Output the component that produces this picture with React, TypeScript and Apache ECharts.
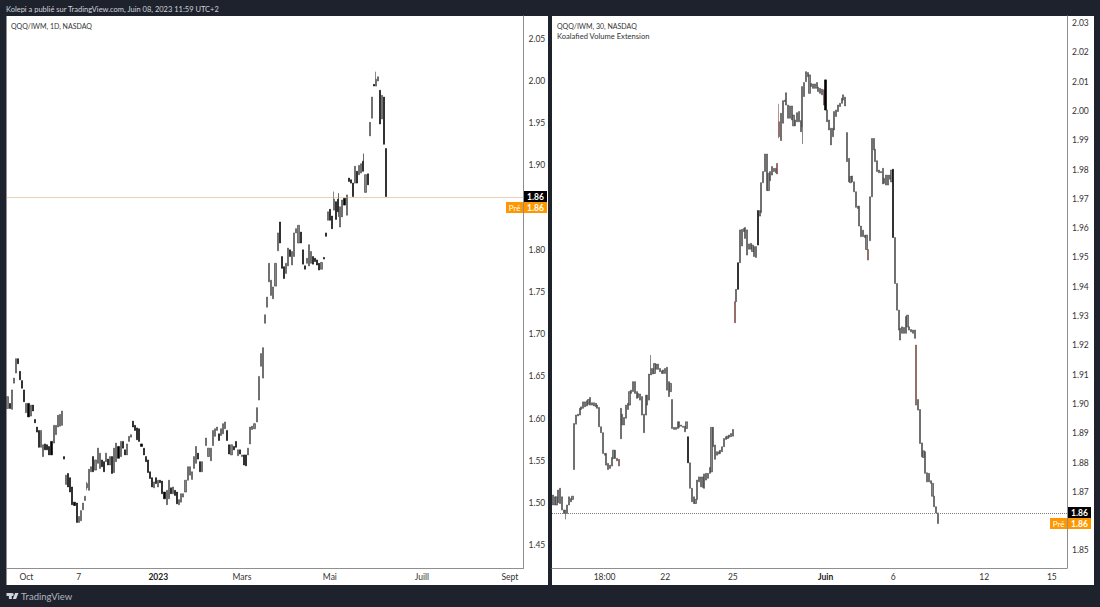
import React, { useEffect, useRef } from "react";
import * as echarts from "echarts";

// [open, close] or [open, close, low, high]; null = no bar
const dailyBars: (number[] | null)[] = [
[1.612,1.626],[1.618,1.612],[1.611,1.634],[1.642,1.648],[1.654,1.671],[1.671,1.665],[1.656,1.646],[1.645,1.636],[1.634,1.620],[1.607,1.618],
[1.618,1.602],[1.603,1.616],[1.616,1.609],[1.599,1.595],[1.590,1.584],[1.586,1.566],[1.566,1.586],[1.555,1.569],[1.570,1.563],[1.569,1.563],
[1.567,1.557],[1.573,1.557],[1.571,1.592],[1.581,1.592],[1.590,1.604],[1.591,1.605],[1.592,1.609],[1.555,1.552],[1.522,1.533],[1.535,1.519],
[1.530,1.513],[1.519,1.498],[1.501,1.497],[1.500,1.477],[1.477,1.484],[1.479,1.491],[1.492,1.500],[1.503,1.508],[1.518,1.523,1.515,1.525],[1.515,1.540],
[1.537,1.543],[1.555,1.537],[1.539,1.551],[1.547,1.565],[1.541,1.559],[1.551,1.543],[1.549,1.537],[1.549,1.559],[1.552,1.545],[1.545,1.555],
[1.555,1.535],[1.536,1.565],[1.549,1.571],[1.567,1.553],[1.555,1.573],[1.573,1.565],[1.563,1.557],[1.557,1.570],[1.573,1.579],[1.578,1.581],
[1.597,1.590],[1.592,1.586],[1.589,1.575],[1.588,1.573],[1.570,1.567],[1.565,1.557],[1.555,1.549],[1.551,1.536],[1.537,1.529],[1.530,1.519],
[1.518,1.525],[1.530,1.523],[1.519,1.527],[1.527,1.524],[1.526,1.511],[1.513,1.505],[1.498,1.515],[1.505,1.527],[1.518,1.511],[1.511,1.519],
[1.515,1.509],[1.513,1.499],[1.498,1.504],[1.501,1.511],[1.507,1.511],[1.513,1.527],[1.527,1.543],[1.533,1.543],[1.528,1.537],[1.541,1.555],
[1.547,1.567],[1.559,1.552],[1.549,1.537],[1.537,1.549],null,[1.568,1.577],[1.555,1.565],[1.550,1.565],[1.568,1.586],[1.579,1.588],
[1.586,1.590],[1.582,1.574],[1.580,1.588],[1.582,1.594],[1.588,1.596],[1.586,1.574],[1.569,1.558],[1.557,1.569],[1.567,1.563],[1.573,1.566],
[1.556,1.563],[1.563,1.558],[1.555,1.557],[1.557,1.545],[1.557,1.544],[1.557,1.565],[1.570,1.590],[1.587,1.591],[1.588,1.594],[1.596,1.613],
[1.622,1.650],[1.662,1.677],[1.648,1.684],[1.713,1.723],[1.732,1.744],[1.762,1.784],[1.746,1.764],[1.742,1.756],[1.757,1.784],[1.799,1.820],
[1.833,1.808],[1.792,1.778],[1.780,1.766],[1.772,1.784],[1.781,1.802],[1.800,1.792],[1.782,1.798],[1.792,1.820],[1.820,1.825],[1.808,1.829],
[1.821,1.808],[1.800,1.783],[1.781,1.777],[1.784,1.790],[1.781,1.806],[1.784,1.798],[1.792,1.783],[1.790,1.786],[1.788,1.782],[1.784,1.776],
[1.777,1.785],[1.791,1.789],[1.820,1.816],[1.835,1.845],[1.848,1.835],[1.840,1.825],[1.847,1.860,1.847,1.869],[1.857,1.836],[1.860,1.845,1.839,1.867],[1.827,1.851],
[1.839,1.859],[1.861,1.853],[1.841,1.865],[1.885,1.881],[1.883,1.879],[1.879,1.863],[1.879,1.899],[1.893,1.879],[1.889,1.900],[1.891,1.902],
[1.905,1.893,1.893,1.914],[1.868,1.889],[1.890,1.877],[1.935,1.951],[1.956,1.981],[1.996,1.994],[1.994,2.002,1.994,2.011],[2.000,2.005],[1.989,1.949],[1.955,1.983],
[1.981,1.925],[1.920,1.863],
];

const intradayBars: number[][] = [
[1.8655,1.8689],[1.8655,1.8683],[1.8655,1.8683],[1.8663,1.8706],[1.8660,1.8712],[1.8638,1.8683],[1.8626,1.8638],[1.8626,1.8638,1.8606,1.8638],[1.8626,1.8655],[1.8655,1.8683],
[1.8666,1.8677],[1.8674,1.8685],[1.8776,1.8933],[1.8931,1.8962],[1.8959,1.8965],[1.8962,1.8985],[1.8981,1.8990],[1.8985,1.9007],[1.8990,1.9007],[1.8993,1.9011],
[1.8999,1.9015],[1.8996,1.9022],[1.8996,1.9004],[1.8993,1.9004],[1.8990,1.9002],[1.8985,1.8996],[1.8922,1.8988],[1.8902,1.8922],[1.8831,1.8902],[1.8825,1.8831],
[1.8791,1.8831],[1.8776,1.8797],[1.8780,1.8791],[1.8788,1.8817],[1.8814,1.8842],[1.8814,1.8842],[1.8806,1.8814],[1.8788,1.8811],[1.8881,1.8985],[1.8928,1.8965],
[1.8928,1.8954],[1.8951,1.8996],[1.8981,1.9002],[1.8996,1.9042],[1.9036,1.9047],[1.9042,1.9076],[1.9036,1.9076],[1.9019,1.9042],[1.9022,1.9036],[1.9013,1.9034],
[1.8962,1.9025],[1.8902,1.8965],[1.8962,1.9030],[1.8996,1.9030],[1.9013,1.9102],[1.9099,1.9121,1.9099,1.9167],[1.9102,1.9121],[1.9104,1.9138],[1.9118,1.9136],[1.9118,1.9136],
[1.9110,1.9121],[1.9104,1.9113],[1.9104,1.9116],[1.9104,1.9121],[1.9047,1.9125],[1.9025,1.9076],[1.9042,1.9070],[1.8916,1.9015],[1.8913,1.8920],[1.8913,1.8920],
[1.8916,1.8939],[1.8920,1.8939],[1.8924,1.8928],[1.8920,1.8924],[1.8905,1.8924],[1.8916,1.8939],[1.8888,1.8799],[1.8712,1.8799],[1.8666,1.8712],[1.8660,1.8683],
[1.8660,1.8674],[1.8674,1.8740],[1.8734,1.8751],[1.8717,1.8751],[1.8715,1.8751],[1.8712,1.8761],[1.8740,1.8763],[1.8746,1.8763],[1.8763,1.8783],[1.8768,1.8920],
[1.8854,1.8920],[1.8811,1.8860],[1.8825,1.8837],[1.8829,1.8837],[1.8831,1.8842],[1.8837,1.8854],[1.8854,1.8882],[1.8879,1.8888],[1.8882,1.8890],[1.8886,1.8894],
[1.8888,1.8899],[1.8890,1.8913],[1.9277,1.9349],[1.9349,1.9391],[1.9482,1.9391],[1.9482,1.9594],[1.9539,1.9596],[1.9588,1.9599],[1.9565,1.9602],[1.9508,1.9594],
[1.9528,1.9546],[1.9528,1.9548],[1.9520,1.9542],[1.9503,1.9537],[1.9500,1.9537],[1.9660,1.9542],[1.9641,1.9660],[1.9653,1.9755],[1.9755,1.9793],[1.9793,1.9853],
[1.9728,1.9853],[1.9728,1.9787],[1.9762,1.9793],[1.9781,1.9810],[1.9793,1.9804],[1.9789,1.9804],[1.9785,1.9821],[1.9912,1.9963,1.9907,2.0024],[1.9899,1.9992],[1.9958,2.0035],
[2.0032,2.0037],[2.0020,2.0062],[1.9975,2.0020],[1.9975,2.0017],[1.9969,2.0017],[1.9949,1.9986],[1.9949,1.9969],[1.9963,1.9994],[1.9963,1.9998],[1.9929,1.9967],
[1.9946,2.0083,1.9887,2.0083],[2.0049,2.0097],[2.0100,2.0134],[2.0117,2.0131],[2.0060,2.0123],[2.0083,2.0094],[2.0077,2.0092],[2.0077,2.0092],[2.0077,2.0097],[2.0066,2.0081],
[2.0060,2.0077],[2.0055,2.0074],[2.0020,2.0072],[2.0106,2.0003],[1.9963,2.0003],[1.9935,1.9969],[1.9884,1.9941],[1.9912,1.9941],[1.9935,1.9998],[1.9981,2.0003],
[1.9998,2.0020],[2.0015,2.0026],[2.0026,2.0043],[2.0037,2.0055],[2.0017,2.0047],[1.9827,1.9926],[1.9758,1.9838],[1.9755,1.9776],[1.9758,1.9778],[1.9724,1.9758],
[1.9671,1.9724],[1.9667,1.9675],[1.9607,1.9675],[1.9571,1.9607],[1.9571,1.9593],[1.9568,1.9576],[1.9527,1.9576],[1.9491,1.9527],[1.9557,1.9707],[1.9707,1.9906],
[1.9867,1.9906],[1.9827,1.9869],[1.9793,1.9830],[1.9789,1.9798],[1.9789,1.9793],[1.9751,1.9804],[1.9753,1.9770],[1.9747,1.9781],[1.9747,1.9781],[1.9767,1.9781],
[1.9758,1.9798],[1.9801,1.9568],[1.9411,1.9568],[1.9320,1.9411],[1.9252,1.9320],[1.9218,1.9258],[1.9241,1.9263],[1.9241,1.9261],[1.9241,1.9298],[1.9263,1.9303],
[1.9252,1.9263],[1.9246,1.9254],[1.9241,1.9252],[1.9224,1.9252],[1.8996,1.9201],[1.8979,1.9015],[1.8865,1.8981],[1.8820,1.8867],[1.8817,1.8840],[1.8763,1.8837],
[1.8734,1.8765],[1.8734,1.8763],[1.8729,1.8738],[1.8685,1.8729],[1.8649,1.8685],[1.8628,1.8649],[1.8592,1.8628],
];
const intradayHighlighted = [37, 102, 126, 127, 152, 177, 204];

const dailySlots = 247;
const intradaySlots = 289;
const dailyXTicks: [number, string, boolean][] = [[9,"Oct",false],[34,"7",false],[72,"2023",true],[112,"Mars",false],[154,"Mai",false],[198,"Juill",false],[240,"Sept",false]];
const intradayXTicks: [number, string, boolean][] = [[29,"18:00",false],[63,"22",false],[101,"25",false],[153,"Juin",true],[191,"6",false],[242,"12",false],[280,"15",false]];
const dailyYTicks = [1.45,1.5,1.55,1.6,1.65,1.7,1.75,1.8,1.9,1.95,2.0,2.05];
const intradayYTicks = [1.85,1.87,1.88,1.89,1.9,1.91,1.92,1.93,1.94,1.95,1.96,1.97,1.98,1.99,2.0,2.01,2.02,2.03];
const dailyLast = 1.8626;
const intradayLast = 1.8628;

const FONT = "Lato, 'Noto Sans', sans-serif";
const DARK = "#1e222d";

echarts.graphic.registerShape(
  "tvLogo",
  echarts.graphic.extendPath("M0 0h11v10H5V5H0z M15 2.6a2.6 2.6 0 1 1-5.2 0 2.6 2.6 0 0 1 5.2 0z M18 0h7l-5 10h-7z", {})
);

const rowsToCandles = (rows: (number[] | null)[], red: number[] = []) =>
  rows.map((r, i) => {
    if (!r) return ["-", "-", "-", "-"];
    const value = [r[0], r[1], r[2] ?? Math.min(r[0], r[1]), r[3] ?? Math.max(r[0], r[1])];
    if (red.includes(i))
      return { value, itemStyle: { color: "#7c4a44", borderColor: "#7c4a44", color0: "#7c4a44", borderColor0: "#7c4a44" } };
    return value;
  });

const xAxis = (gridIndex: number, slots: number, ticks: [number, string, boolean][]) => {
  const labels = new Map(ticks.map((t) => [String(t[0]), t]));
  return {
    type: "category" as const,
    gridIndex,
    data: Array.from({ length: slots }, (_, i) => String(i)),
    boundaryGap: true,
    axisTick: { show: false },
    splitLine: { show: false },
    axisLine: { show: true, lineStyle: { color: "#8f8f8f", width: 1 } },
    axisLabel: {
      margin: 4,
      fontFamily: FONT,
      fontSize: 8.5,
      color: "#333",
      interval: (_: number, v: string) => labels.has(v),
      formatter: (v: string) => {
        const t = labels.get(v);
        if (!t) return "";
        return t[2] ? `{b|${t[1]}}` : t[1];
      },
      rich: { b: { fontWeight: "bold", fontFamily: FONT, fontSize: 8.5, color: "#222" } },
    },
  };
};

const yAxis = (gridIndex: number, min: number, max: number, ticks: number[]) => ({
  type: "value" as const,
  gridIndex,
  position: "right" as const,
  min,
  max,
  splitLine: { show: false },
  axisTick: { show: false },
  axisLine: { show: true, lineStyle: { color: "#8f8f8f", width: 1 } },
  axisLabel: {
    margin: 5,
    fontFamily: FONT,
    fontSize: 8.5,
    color: "#333",
    customValues: ticks,
    formatter: (v: number) => v.toFixed(2),
  },
});

const candles = (idx: number, data: any[], lineValue: number, lineColor: string) => ({
  type: "candlestick" as const,
  xAxisIndex: idx,
  yAxisIndex: idx,
  data,
  barWidth: 1.6,
  large: false,
  progressive: 0,
  itemStyle: { color: "#858585", color0: "#000", borderColor: "#3a3a3a", borderColor0: "#000", borderWidth: 0.6 },
  markLine: {
    silent: true,
    symbol: "none",
    precision: 4,
    label: { show: false },
    lineStyle: { type: [1, 1], color: lineColor, width: 1 },
    data: [{ yAxis: lineValue }],
  },
});

const txt = (x: number, y: number, text: string, fill: string, fontSize = 8, extra: any = {}) => ({
  type: "text",
  x,
  y,
  z: 20,
  style: { text, fill, fontSize, fontFamily: FONT, textVerticalAlign: "middle", ...extra },
});
const box = (x: number, y: number, width: number, height: number, fill: string, z = 10) => ({
  type: "rect",
  z,
  shape: { x, y, width, height },
  style: { fill },
});

export default function App() {
  const ref = useRef<HTMLDivElement>(null);
  useEffect(() => {
    document.body.style.margin = "0";
    const chart = echarts.init(ref.current!, undefined, { renderer: "svg" });
    chart.setOption({
      animation: false,
      backgroundColor: DARK,
      grid: [
        { left: 6.5, top: 16, width: 517, height: 552, containLabel: false },
        { left: 552, top: 16, width: 515, height: 552, containLabel: false },
      ],
      xAxis: [xAxis(0, dailySlots, dailyXTicks), xAxis(1, intradaySlots, intradayXTicks)],
      yAxis: [yAxis(0, 1.423, 2.077, dailyYTicks), yAxis(1, 1.844, 2.0324, intradayYTicks)],
      series: [
        candles(0, rowsToCandles(dailyBars), dailyLast, "#d2a468"),
        candles(1, rowsToCandles(intradayBars, intradayHighlighted), intradayLast, "#7d7d7d"),
      ],
      graphic: {
        elements: [
          { ...box(6.5, 16, 541.5, 569, "#fff", -10), z: -10 },
          { ...box(552, 16, 542, 569, "#fff", -10), z: -10 },
          txt(6, 9, "Kolepi a publié sur TradingView.com, Juin 08, 2023 11:59 UTC+2", "#d1d4dc", 7.5),
          txt(11, 26, "QQQ/IWM, 1D, NASDAQ", "#333", 7),
          txt(557, 26, "QQQ/IWM, 30, NASDAQ", "#333", 7),
          txt(557, 36, "Koalafied Volume Extension", "#333", 7.6),
          box(524, 191, 23, 12, "#000"),
          txt(535.5, 197, "1.86", "#fff", 8.5, { textAlign: "center", fontWeight: "bold" }),
          box(524, 202, 23, 11, "#ff9800"),
          box(506, 202, 17, 11, "#ff9800"),
          txt(535.5, 207.5, "1.86", "#fff", 8.5, { textAlign: "center", fontWeight: "bold" }),
          txt(514.5, 207.5, "Pré", "#fff", 8, { textAlign: "center" }),
          box(1068, 507, 23, 12, "#000"),
          txt(1079.5, 513, "1.86", "#fff", 8.5, { textAlign: "center", fontWeight: "bold" }),
          box(1068, 518, 23, 11, "#ff9800"),
          box(1050, 518, 17, 11, "#ff9800"),
          txt(1079.5, 523.5, "1.86", "#fff", 8.5, { textAlign: "center", fontWeight: "bold" }),
          txt(1058.5, 523.5, "Pré", "#fff", 8, { textAlign: "center" }),
          { type: "tvLogo", x: 6.5, y: 593, scaleX: 0.48, scaleY: 0.6, z: 20, style: { fill: "#d1d4dc" } },
          txt(21, 596.5, "TradingView", "#b2b5be", 9.5),
        ],
      },
    });
    return () => chart.dispose();
  }, []);
  return <div ref={ref} style={{ position: "absolute", left: 0, top: 0, width: 1100, height: 607 }} />;
}
